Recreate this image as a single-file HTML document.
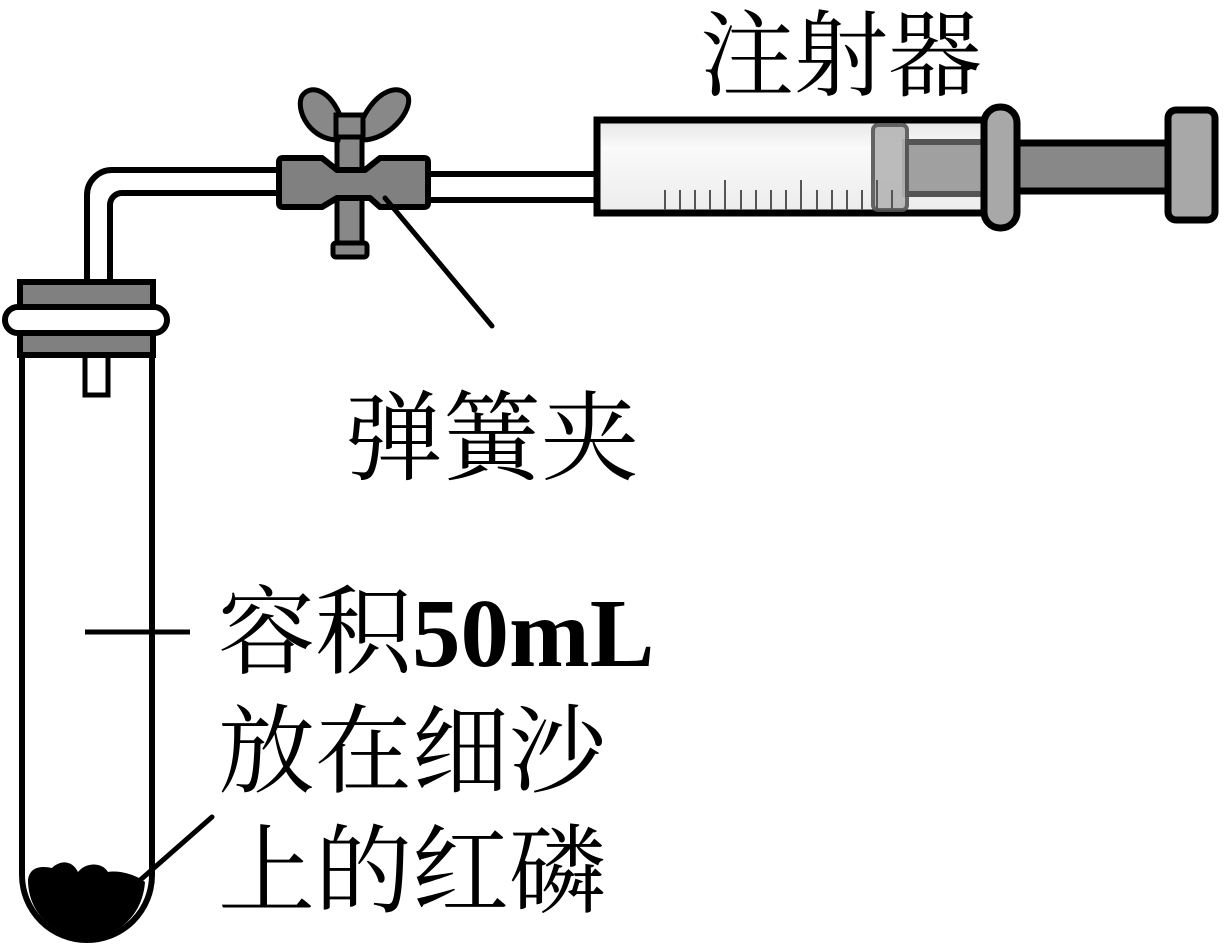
<!DOCTYPE html>
<html><head><meta charset="utf-8"><style>
html,body{margin:0;padding:0;background:#fff;}
svg{display:block}
text{font-family:"Liberation Serif","Noto Serif CJK SC",serif;fill:#000}
</style></head><body>
<svg width="1226" height="946" viewBox="0 0 1226 946" xmlns="http://www.w3.org/2000/svg">
<defs>
<linearGradient id="bar" x1="0" y1="0" x2="0" y2="1">
<stop offset="0" stop-color="#e6e6e6"/><stop offset="0.3" stop-color="#fafafa"/><stop offset="1" stop-color="#ececec"/>
</linearGradient>
</defs>
<!-- test tube -->
<path d="M22,330 L22,875 A65,65 0 0 0 152,875 L152,330" fill="#fff" stroke="#000" stroke-width="6"/>
<!-- phosphorus -->
<path d="M28,880 C30,866 42,866 52,868 C60,860 72,860 78,872 C86,862 102,862 108,872 C118,870 135,874 145,882 C143,912 122,936 88,938 C52,936 28,912 28,880 Z" fill="#000"/>
<!-- bent tube -->
<path d="M87,290 L87,195 A25,25 0 0 1 112,170 L290,170" fill="none" stroke="#000" stroke-width="6"/>
<path d="M110,290 L110,205 A12,12 0 0 1 122,193 L290,193" fill="none" stroke="#000" stroke-width="6"/>
<rect x="85" y="350" width="23" height="45" fill="#fff" stroke="#000" stroke-width="5"/>
<!-- stopper -->
<rect x="20" y="282" width="133" height="73" fill="#808080" stroke="#000" stroke-width="6"/>
<rect x="5" y="307" width="162" height="26" rx="13" fill="#fff" stroke="#000" stroke-width="6"/>
<rect x="24" y="310" width="125" height="20" fill="#fff"/>
<!-- right tube -->
<rect x="420" y="174" width="180" height="26" fill="#fff" stroke="#000" stroke-width="6"/>
<!-- clamp screw -->
<rect x="337" y="115" width="25" height="135" fill="#888" stroke="#000" stroke-width="5"/>
<rect x="333" y="243" width="34" height="14" rx="3" fill="#888" stroke="#000" stroke-width="5"/>
<path d="M338,140 C310,140 295,110 302,96 C310,84 330,88 342,120 Z" fill="#888" stroke="#000" stroke-width="5"/>
<path d="M362,140 C390,140 413,110 408,96 C400,84 378,88 362,120 Z" fill="#888" stroke="#000" stroke-width="5"/>
<rect x="336" y="115" width="27" height="22" fill="#888" stroke="#000" stroke-width="5"/>
<!-- clamp body -->
<path d="M283,158 L322,158 L337,170 L365,170 L380,158 L424,158 Q428,158 428,162 L428,203 Q428,207 424,207 L380,207 L370,198 L337,198 L322,207 L283,207 Q279,207 279,203 L279,162 Q279,158 283,158 Z" fill="#808080" stroke="#000" stroke-width="6" stroke-linejoin="round"/>
<line x1="385" y1="198" x2="492" y2="326" stroke="#000" stroke-width="5" stroke-linecap="round"/>
<!-- syringe -->
<rect x="597" y="120" width="395" height="93" fill="url(#bar)" stroke="#000" stroke-width="7"/>
<rect x="905" y="142" width="85" height="52" fill="#a0a0a0" stroke="#555" stroke-width="6"/>
<rect x="873" y="125" width="34" height="85" rx="5" fill="#b5b5b5" stroke="#555" stroke-width="4" opacity="0.9"/>
<g stroke="#555" stroke-width="2">
<line x1="665" y1="190" x2="665" y2="210"/><line x1="680" y1="190" x2="680" y2="210"/><line x1="695" y1="190" x2="695" y2="210"/><line x1="710" y1="190" x2="710" y2="210"/>
<line x1="725" y1="180" x2="725" y2="210"/><line x1="741" y1="190" x2="741" y2="210"/><line x1="756" y1="190" x2="756" y2="210"/><line x1="771" y1="190" x2="771" y2="210"/>
<line x1="786" y1="190" x2="786" y2="210"/><line x1="801" y1="180" x2="801" y2="210"/><line x1="817" y1="190" x2="817" y2="210"/><line x1="832" y1="190" x2="832" y2="210"/>
<line x1="847" y1="190" x2="847" y2="210"/><line x1="862" y1="190" x2="862" y2="210"/><line x1="877" y1="180" x2="877" y2="210"/><line x1="892" y1="190" x2="892" y2="210"/>
</g>
<rect x="1012" y="143" width="160" height="48" fill="#888" stroke="#000" stroke-width="7"/>
<rect x="984" y="107" width="33" height="121" rx="16" fill="#a8a8a8" stroke="#000" stroke-width="7"/>
<rect x="1168" y="110" width="47" height="110" rx="8" fill="#a8a8a8" stroke="#000" stroke-width="7"/>
<!-- leaders -->
<line x1="85" y1="632" x2="190" y2="632" stroke="#000" stroke-width="5"/>
<line x1="212" y1="817" x2="138" y2="882" stroke="#000" stroke-width="5" stroke-linecap="round"/>
<!-- labels -->
<text x="700" y="88" font-size="94">注射器</text>
<text x="345" y="472" font-size="98">弹簧夹</text>
<text x="218" y="666" font-size="97">容积<tspan font-weight="bold">50mL</tspan></text>
<text x="218" y="785" font-size="97">放在细沙</text>
<text x="218" y="905" font-size="97">上的红磷</text>
</svg>
</body></html>
